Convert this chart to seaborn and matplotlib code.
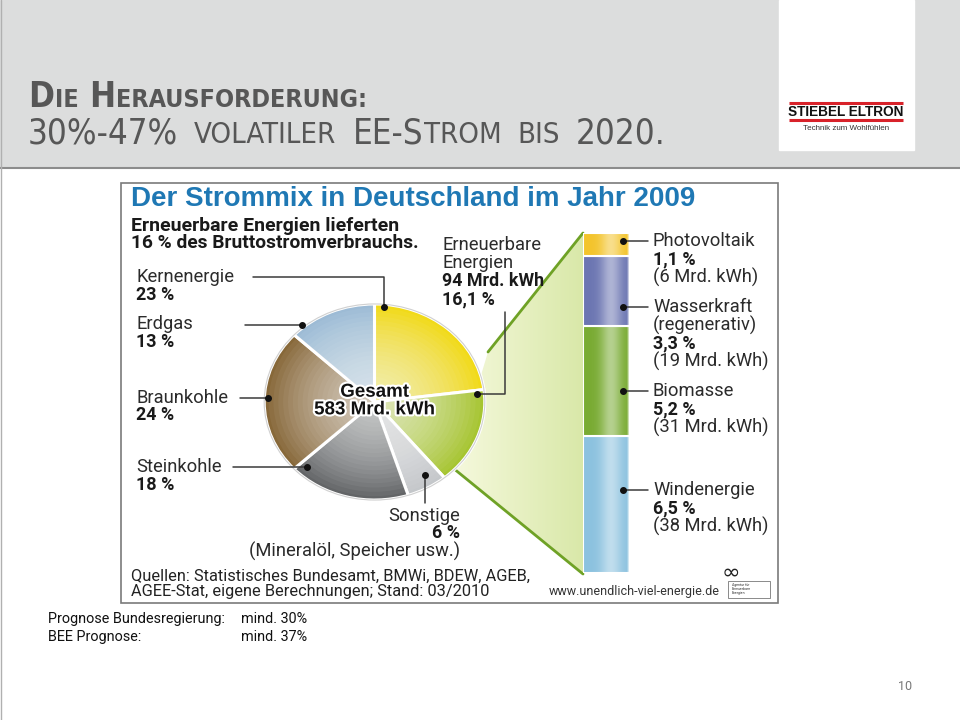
import numpy as np
import matplotlib
matplotlib.use('Agg')
import matplotlib.pyplot as plt
import matplotlib.patheffects as pe
from matplotlib.patches import Rectangle, Polygon, Ellipse
import seaborn as sns

# Strommix 2009, clockwise from 12 o'clock
pie_labels = ['Kernenergie', 'Erneuerbare Energien', 'Sonstige', 'Steinkohle', 'Braunkohle', 'Erdgas']
pie_shares = [23, 16.1, 6, 18, 24, 13]
pie_colors = ['#f1da18', '#a6c531', '#c4c7ca', '#636567', '#876839', '#9dbbd5']
total_twh = 583

# renewables, stacked bottom to top
ee_labels = ['Windenergie', 'Biomasse', 'Wasserkraft', 'Photovoltaik']
ee_shares = [6.5, 5.2, 3.3, 1.1]
ee_twh = [38, 31, 19, 6]
ee_colors = ['#8cc2df', '#79ab33', '#6c76b2', '#f3c42c']

forecast_names = ['Prognose Bundesregierung:', 'BEE Prognose:']
forecast_values = [30, 37]


def pct(v):
    return (f'{v:g} %').replace('.', ',')


sns.set_theme(style='white')
plt.rcParams['font.family'] = ['Roboto', 'DejaVu Sans']

fig = plt.figure(figsize=(9.6, 7.2), dpi=100)
fig.patch.set_facecolor('white')

# background layer in pixel coordinates
bg = fig.add_axes([0, 0, 1, 1], zorder=0)
bg.set_xlim(0, 960)
bg.set_ylim(720, 0)
bg.axis('off')

bg.add_patch(Rectangle((0, 0), 960, 167, color='#dcdddd', zorder=0))
bg.plot([0, 960], [167.5, 167.5], color='#8c8c8c', lw=1.5)
bg.plot([0.5, 0.5], [0, 720], color='#b0b0b0', lw=1)
bg.add_patch(Rectangle((779, 0), 135, 150, color='white', zorder=1))

# logo
bg.plot([789, 903], [102.5, 102.5], color='#d8222a', lw=2.2, zorder=2, solid_capstyle='butt')
bg.plot([789, 903], [119.5, 119.5], color='#d8222a', lw=2.2, zorder=2, solid_capstyle='butt')
bg.text(846, 111.5, 'STIEBEL ELTRON', family='Liberation Sans', weight='bold',
        fontsize=9.8, ha='center', va='center', color='#111111', zorder=3)
bg.text(846, 128, 'Technik zum Wohlfühlen', family='Liberation Sans', fontsize=5.8,
        ha='center', va='center', color='#333333', zorder=3)

# slide title in small caps
tfont = dict(family='DejaVu Sans', fontstretch='condensed', color='#575757')


def small_caps(pieces, x0, y0, weight, big_size, small_size):
    prev = None
    for txt, big, gap in pieces:
        size = big_size if big else small_size
        if prev is None:
            prev = bg.text(x0, y0, txt, fontsize=size, va='baseline', weight=weight, **tfont)
        else:
            prev = bg.annotate(txt, xy=(1, y0), xycoords=(prev, 'data'), xytext=(gap, 0),
                               textcoords='offset pixels', fontsize=size, va='baseline',
                               weight=weight, **tfont)


small_caps([('D', True, 0), ('IE', False, 1), ('H', True, 10), ('ERAUSFORDERUNG:', False, 1)],
           28, 107, 'bold', 25, 18)
small_caps([('30%-47%', True, 0), ('VOLATILER', False, 16), ('EE-S', True, 16),
            ('TROM', False, 1), ('BIS', False, 16), ('2020.', True, 16)], 28, 143, 'normal', 25, 21)

# infographic frame
bg.add_patch(Rectangle((121, 183), 657, 420, fill=False, ec='#7a7a7a', lw=1.2, zorder=1))
bg.text(131, 199, 'Der Strommix in Deutschland im Jahr 2009', family='Liberation Sans',
        weight='bold', fontsize=20, color='#1f78b4', va='center')
bg.text(131, 226, 'Erneuerbare Energien lieferten', weight='bold', fontsize=14, color='#1a1a1a', va='center')
bg.text(131, 243, '16 % des Bruttostromverbrauchs.', weight='bold', fontsize=13.8, color='#1a1a1a', va='center')

# green funnel from pie slice to the bar (gradient fill)
funnel = Polygon([(583, 233), (583, 574), (453, 468), (488, 352)], closed=True,
                 fc='none', ec='none', zorder=1)
bg.add_patch(funnel)
gx = np.linspace(0, 1, 200)
c0 = np.array([0.97, 0.98, 0.88])
c1 = np.array([0.85, 0.91, 0.66])
grad = np.zeros((1, 200, 3))
grad[0] = c0 + (c1 - c0) * gx[:, None]
im = bg.imshow(grad, extent=(445, 584, 575, 230), aspect='auto', zorder=1)
im.set_clip_path(funnel)
bg.set_xlim(0, 960)
bg.set_ylim(720, 0)
bg.plot([488, 583], [352, 233], color='#6fa226', lw=2, zorder=2)
bg.plot([453, 583], [468, 574], color='#6fa226', lw=2, zorder=2)

# pie (slightly elliptical)
pax = fig.add_axes([262 / 960, 1 - 502 / 720, 225 / 960, 200 / 720], zorder=2)
wedges, _ = pax.pie(pie_shares, colors=pie_colors, startangle=90, counterclock=False,
                    wedgeprops=dict(edgecolor='white', linewidth=2.2))
for i in range(22):
    r = 0.96 - i * 0.044
    pax.add_patch(Ellipse((0, 0), 2 * r, 2 * r, color='white', alpha=0.05, lw=0, zorder=3))
pax.add_patch(Ellipse((0, 0), 2.0, 2.0, fill=False, ec='#d0d0d0', lw=0.8, zorder=4))
pax.set_aspect('auto')
pax.set_xlim(-1.02, 1.02)
pax.set_ylim(-1.02, 1.02)
pax.axis('off')
halo = [pe.withStroke(linewidth=3, foreground='white')]
pax.text(0, 0.1, 'Gesamt', family='Liberation Sans', weight='bold', fontsize=13.5,
         ha='center', va='center', color='#111111', path_effects=halo, zorder=6)
pax.text(0, -0.08, f'{total_twh} Mrd. kWh', family='Liberation Sans', weight='bold', fontsize=13.5,
         ha='center', va='center', color='#111111', path_effects=halo, zorder=6)

# stacked bar of renewables
bax = fig.add_axes([583 / 960, 1 - 573 / 720, 47 / 960, 340 / 720], zorder=2)
bottom = 0
for val, col in zip(ee_shares, ee_colors):
    bax.bar(0, val, bottom=bottom, width=1, color=col, edgecolor='white', linewidth=1.5)
    bottom += val
xs = np.linspace(0, 1, 100)
shade = np.zeros((1, 100, 4))
shade[..., :3] = 1
shade[0, :, 3] = 0.45 * np.exp(-((xs - 0.6) / 0.22) ** 2)
shade[0, -5:, 3] = 0.6
bax.imshow(shade, extent=(-0.5, 0.5, 0, sum(ee_shares)), aspect='auto', zorder=3)
bax.set_xlim(-0.5, 0.5)
bax.set_ylim(0, sum(ee_shares))
bax.axis('off')

# foreground layer: leader lines and labels
fg = fig.add_axes([0, 0, 1, 1], zorder=3)
fg.set_xlim(0, 960)
fg.set_ylim(720, 0)
fg.axis('off')
fg.patch.set_alpha(0)

lab = dict(fontsize=13.2, color='#2b2b2b', va='center')
labb = dict(fontsize=12.9, color='#1a1a1a', va='center', weight='bold')
lc = dict(color='#3a3a3a', lw=1.1)


def dot(x, y):
    fg.plot(x, y, 'o', color='#111111', ms=4)


# Kernenergie
fg.text(136, 277, pie_labels[0], **lab)
fg.text(136, 295, pct(pie_shares[0]), **labb)
fg.plot([253, 384, 384], [277, 277, 307], **lc)
dot(384, 307)
# Erdgas
fg.text(136, 324, pie_labels[5], **lab)
fg.text(136, 342, pct(pie_shares[5]), **labb)
fg.plot([245, 302], [325, 325], **lc)
dot(302, 325)
# Braunkohle
fg.text(136, 398, pie_labels[4], **lab)
fg.text(136, 415, pct(pie_shares[4]), **labb)
fg.plot([240, 268], [398, 398], **lc)
dot(268, 398)
# Steinkohle
fg.text(136, 467, pie_labels[3], **lab)
fg.text(136, 485, pct(pie_shares[3]), **labb)
fg.plot([233, 307], [467, 467], **lc)
dot(307, 467)
# Sonstige
fg.text(460, 516, pie_labels[2], ha='right', **lab)
fg.text(460, 533, pct(pie_shares[2]), ha='right', **labb)
fg.text(460, 551, '(Mineralöl, Speicher usw.)', ha='right', **lab)
fg.plot([425, 425], [475, 503], **lc)
dot(425, 475)
# Erneuerbare
fg.text(442, 245, 'Erneuerbare', **lab)
fg.text(442, 263, 'Energien', **lab)
fg.text(442, 281, f'{sum(ee_twh)} Mrd. kWh', **labb)
fg.text(442, 299, pct(pie_shares[1]), **labb)
fg.plot([505, 505, 477], [312, 394, 394], **lc)
dot(477, 394)

# bar labels (top to bottom)
bar_rows = {'Photovoltaik': 241, 'Wasserkraft': 307, 'Biomasse': 391, 'Windenergie': 490}
for name, share, twh in zip(ee_labels, ee_shares, ee_twh):
    y = bar_rows[name]
    fg.plot([623, 648], [y, y], **lc)
    dot(623, y)
    lines = [(name, False)]
    if name == 'Wasserkraft':
        lines.append(('(regenerativ)', False))
    lines += [(pct(share), True), (f'({twh} Mrd. kWh)', False)]
    for k, (t, b) in enumerate(lines):
        fg.text(653, y + 18 * k, t, **(labb if b else lab))

# sources
fg.text(131, 576, 'Quellen: Statistisches Bundesamt, BMWi, BDEW, AGEB,', fontsize=11.8, color='#222222', va='center')
fg.text(131, 591.5, 'AGEE-Stat, eigene Berechnungen; Stand: 03/2010', fontsize=11.8, color='#222222', va='center')
fg.text(720, 592, 'www.unendlich-viel-energie.de', fontsize=9, color='#333333', va='center', ha='right')
fg.text(731, 573, '\u221e', fontsize=16, color='#222222', va='center', ha='center', family='DejaVu Sans')
fg.add_patch(Rectangle((728, 581), 42, 17, fill=False, ec='#777777', lw=0.6))
fg.text(732, 589, 'Agentur für\nErneuerbare\nEnergien', fontsize=2.5, color='#333333', va='center', linespacing=1.0)

# forecasts below the graphic
for k, (name, v) in enumerate(zip(forecast_names, forecast_values)):
    y = 619 + 18 * k
    fg.text(48, y, name, fontsize=10.4, color='#111111', va='center')
    fg.text(241, y, f'mind. {v}%', fontsize=10.4, color='#111111', va='center')

fg.text(905, 687, '10', fontsize=9, color='#777777', ha='center', va='center')

fig.savefig('out.png', dpi=100)
